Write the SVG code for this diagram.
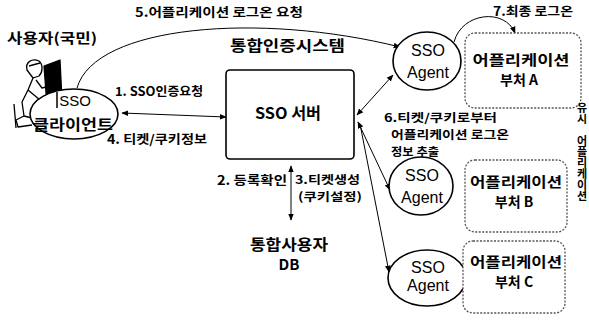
<svg xmlns="http://www.w3.org/2000/svg" width="589" height="324" viewBox="0 0 589 324">
  <defs>
    <marker id="arr" viewBox="0 0 10 10" refX="9" refY="5" markerWidth="7" markerHeight="7" orient="auto-start-reverse" markerUnits="userSpaceOnUse">
      <path d="M0,1 L10,5 L0,9 Z" fill="#000"/>
    </marker>
  </defs>
  <style>
    .ko { font-family: "Noto Sans CJK KR", "Noto Sans", sans-serif; font-weight: bold; fill: #000; }
    .lat { font-family: "Liberation Sans", Arial, sans-serif; fill: #000; }
    .lbl { font-size: 12.5px; }
    .lbl2 { font-size: 11.5px; }
    .hd { font-size: 14px; }
    .app { font-size: 14px; }
    .agent { font-size: 16px; }
    .node { fill: #fff; stroke: #000; stroke-width: 1.6; }
    .appbox { fill: #fff; stroke: #555; stroke-width: 1.3; stroke-dasharray: 2 1.5; }
    .conn { fill: none; stroke: #000; stroke-width: 1; }
    .tc { text-anchor: middle; }
    .vert { writing-mode: vertical-rl; text-orientation: upright; -webkit-text-orientation: upright; }
  </style>
  <rect width="589" height="324" fill="#fff"/>

  <!-- headings -->
  <text class="ko lbl" x="135" y="17" textLength="168" lengthAdjust="spacingAndGlyphs">5.어플리케이션 로그온 요청</text>
  <text class="ko lbl" x="493" y="16" textLength="80" lengthAdjust="spacingAndGlyphs">7.최종 로그온</text>
  <text class="ko hd" x="7" y="43" textLength="90" lengthAdjust="spacingAndGlyphs">사용자(국민)</text>
  <text class="ko" x="230" y="51" font-size="15" textLength="115" lengthAdjust="spacingAndGlyphs">통합인증시스템</text>

  <!-- user at a terminal -->
  <g id="user" fill="none" stroke="#000" stroke-width="1.3" stroke-linejoin="round">
    <path d="M44,66 L60,60 L62,100 L47,106 Z" fill="#000"/>
    <path d="M27,70 C25,62 32,58 39,61 C43,64 43,72 39,76 L33,78 Z" fill="#fff"/>
    <path d="M29,66 L40,63"/>
    <path d="M33,78 L28,90 L22,102 L24,116 L32,118"/>
    <path d="M36,80 L42,88 L50,86"/>
    <path d="M28,90 L40,100 L52,102"/>
    <path d="M24,116 L16,120 L18,127 L32,125"/>
    <path d="M14,104 L16,128"/>
  </g>

  <!-- connectors -->
  <g id="connectors" class="conn">
    <path d="M77,88 C95,25 260,12 400,47" marker-end="url(#arr)"/>
    <path d="M454,42 C462,12 505,8 515,33" marker-end="url(#arr)"/>
    <line x1="122" y1="113" x2="226" y2="117" marker-start="url(#arr)" marker-end="url(#arr)"/>
    <line x1="357" y1="115" x2="393" y2="75" marker-start="url(#arr)" marker-end="url(#arr)"/>
    <line x1="358" y1="122" x2="390" y2="190" marker-start="url(#arr)" marker-end="url(#arr)"/>
    <line x1="360" y1="124" x2="389" y2="272" marker-end="url(#arr)"/>
    <line x1="291" y1="166" x2="291" y2="220" marker-start="url(#arr)" marker-end="url(#arr)"/>
  </g>

  <!-- connector labels -->
  <text class="ko lbl" x="115" y="96" textLength="88" lengthAdjust="spacingAndGlyphs">1. SSO인증요청</text>
  <text class="ko lbl" x="107" y="144" textLength="100" lengthAdjust="spacingAndGlyphs">4. 티켓/쿠키정보</text>
  <text class="ko lbl" x="217" y="185" textLength="70" lengthAdjust="spacingAndGlyphs">2. 등록확인</text>
  <text class="ko lbl2"><tspan x="295" y="184" textLength="65" lengthAdjust="spacingAndGlyphs">3.티켓생성</tspan><tspan x="298" y="201" textLength="64" lengthAdjust="spacingAndGlyphs">(쿠키설정)</tspan></text>
  <text class="ko lbl2"><tspan x="384" y="122" textLength="113" lengthAdjust="spacingAndGlyphs">6.티켓/쿠키로부터</tspan><tspan x="391" y="139" textLength="118" lengthAdjust="spacingAndGlyphs">어플리케이션 로그온</tspan><tspan x="391" y="156" textLength="48" lengthAdjust="spacingAndGlyphs">정보 추출</tspan></text>

  <!-- SSO client -->
  <g id="client">
    <ellipse class="node" cx="74" cy="114" rx="44" ry="25" fill="none"/>
    <line x1="57" y1="92" x2="57" y2="108" stroke="#000" stroke-width="1.5"/>
    <text class="lat tc" x="75" y="106" font-size="15">SSO</text>
    <text class="ko tc" x="73" y="130" font-size="14.5" textLength="80" lengthAdjust="spacingAndGlyphs">클라이언트</text>
  </g>

  <!-- SSO server -->
  <g id="sso-server">
    <rect class="node" x="226" y="70" width="128" height="89" rx="4"/>
    <text class="ko tc" x="288" y="119" font-size="16" textLength="66" lengthAdjust="spacingAndGlyphs">SSO 서버</text>
  </g>

  <!-- integrated user DB -->
  <g id="user-db">
    <text class="ko tc" x="289" y="250" font-size="15" textLength="78" lengthAdjust="spacingAndGlyphs">통합사용자</text>
    <text class="ko tc" x="289" y="270" font-size="15">DB</text>
  </g>

  <!-- agents -->
  <g id="agent-a">
    <ellipse class="node" cx="427" cy="61" rx="34" ry="29"/>
    <text class="lat agent tc" x="428" y="56">SSO</text>
    <text class="lat agent tc" x="428" y="78">Agent</text>
  </g>
  <g id="agent-b">
    <ellipse class="node" cx="421" cy="186" rx="32" ry="29"/>
    <text class="lat agent tc" x="422" y="181">SSO</text>
    <text class="lat agent tc" x="422" y="203">Agent</text>
  </g>
  <g id="agent-c">
    <ellipse class="node" cx="427" cy="278" rx="39" ry="28"/>
    <text class="lat agent tc" x="428" y="273">SSO</text>
    <text class="lat agent tc" x="428" y="291">Agent</text>
  </g>

  <!-- application systems -->
  <g id="app-a">
    <rect class="appbox" x="465" y="33" width="116" height="75" rx="10"/>
    <text class="ko app tc" x="521" y="65" textLength="97" lengthAdjust="spacingAndGlyphs">어플리케이션</text>
    <text class="ko app tc" x="519" y="85">부처 A</text>
  </g>
  <g id="app-b">
    <rect class="appbox" x="465" y="160" width="102" height="72" rx="10"/>
    <text class="ko app tc" x="516" y="187" textLength="92" lengthAdjust="spacingAndGlyphs">어플리케이션</text>
    <text class="ko app tc" x="514" y="207">부처 B</text>
  </g>
  <g id="app-c">
    <rect class="appbox" x="463" y="241" width="102" height="72" rx="10"/>
    <text class="ko app tc" x="516" y="267" textLength="92" lengthAdjust="spacingAndGlyphs">어플리케이션</text>
    <text class="ko app tc" x="514" y="287">부처 C</text>
  </g>

  <!-- vertical side caption -->
  <text class="ko vert" x="582" y="102" font-size="11" writing-mode="tb" glyph-orientation-vertical="0">유시　어플리케이션</text>
</svg>
